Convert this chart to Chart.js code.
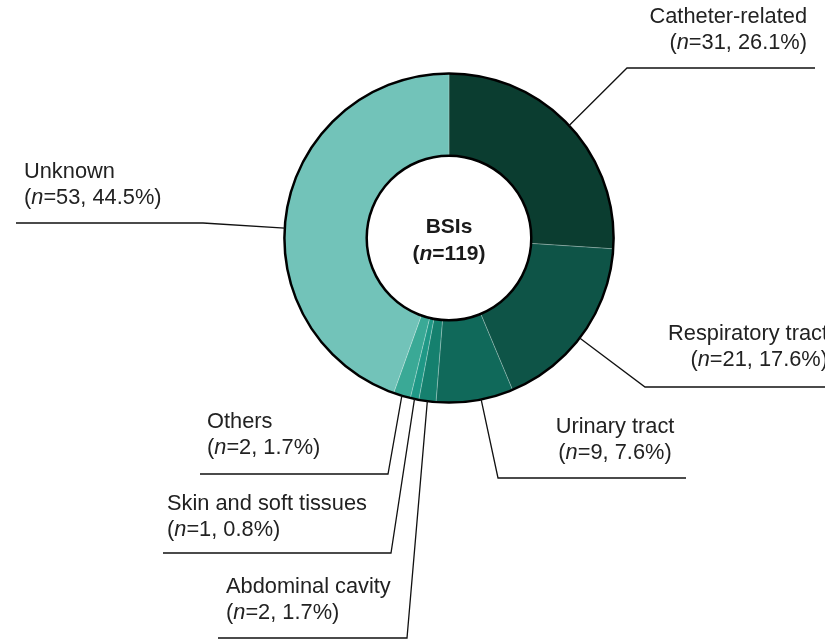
<!DOCTYPE html>
<html>
<head>
<meta charset="utf-8">
<title>BSIs by source</title>
<script src="https://cdn.jsdelivr.net/npm/chart.js@4.4.1/dist/chart.umd.min.js"></script>
<style>
    html, body { margin: 0; padding: 0; background: #ffffff; }
    #wrap { width: 825px; height: 641px; }
</style>
</head>
<body>
<div id="wrap"><canvas id="bsi-chart" width="825" height="641"></canvas></div>
<script>
"use strict";

// Source of bloodstream infections, clockwise from 12 o'clock
const categories = ["Catheter-related", "Respiratory tract", "Urinary tract",
    "Abdominal cavity", "Skin and soft tissues", "Others", "Unknown"];
const counts = [31, 21, 9, 2, 1, 2, 53];
const percents = [26.1, 17.6, 7.6, 1.7, 0.8, 1.7, 44.5];
const centerTitle = "BSIs";
const totalCount = 119;

const sliceColors = ["#0b3d30", "#0e5447", "#10695a", "#15806e", "#1f9886", "#3aa996", "#72c3b9"];

// where each callout sits: point on the arc (fraction of the slice), elbow, end of the rule, text
const callouts = [
    { at: 0.50, elbow: [627, 68],  end: 815, tx: 807, ty: 23,  align: "right" },
    { at: 0.53, elbow: [645, 387], end: 830, tx: 828, ty: 340, align: "right" },
    { at: 0.42, elbow: [498, 478], end: 686, tx: 615, ty: 433, align: "center" },
    { at: 0.50, elbow: [407, 638], end: 218, tx: 226, ty: 593, align: "left" },
    { at: 0.50, elbow: [391, 553], end: 163, tx: 167, ty: 510, align: "left" },
    { at: 0.50, elbow: [388, 474], end: 200, tx: 207, ty: 428, align: "left" },
    { at: 0.46, elbow: [203, 223], end: 16,  tx: 24,  ty: 178, align: "left" }
];

const FONT = '"Liberation Sans", Arial, sans-serif';
const LABEL_SIZE = 21.8;
const TEXT_COLOR = "#222222";

// draw a line made of plain / italic runs
function drawRich(ctx, parts, x, y, align, size, bold) {
    const weight = bold ? "bold " : "";
    let total = 0;
    parts.forEach(p => {
        ctx.font = (p.i ? "italic " : "") + weight + size + "px " + FONT;
        p.w = ctx.measureText(p.t).width;
        total += p.w;
    });
    let cx = x;
    if (align === "right") cx = x - total;
    else if (align === "center") cx = x - total / 2;
    ctx.textAlign = "left";
    parts.forEach(p => {
        ctx.font = (p.i ? "italic " : "") + weight + size + "px " + FONT;
        ctx.fillText(p.t, cx, y);
        cx += p.w;
    });
}

const calloutPlugin = {
    id: "callouts",
    afterDatasetsDraw(chart) {
        const ctx = chart.ctx;
        const meta = chart.getDatasetMeta(0);
        const arc0 = meta.data[0];
        const cx = arc0.x, cy = arc0.y;
        const outerR = arc0.outerRadius, innerR = arc0.innerRadius;

        ctx.save();

        // black rims round the ring
        ctx.strokeStyle = "#000000";
        ctx.lineWidth = 2.5;
        ctx.beginPath();
        ctx.arc(cx, cy, outerR, 0, Math.PI * 2);
        ctx.stroke();
        ctx.beginPath();
        ctx.arc(cx, cy, innerR, 0, Math.PI * 2);
        ctx.stroke();

        // leader lines
        ctx.strokeStyle = "#111111";
        ctx.lineWidth = 1.3;
        meta.data.forEach((arc, i) => {
            const c = callouts[i];
            const a = arc.startAngle + (arc.endAngle - arc.startAngle) * c.at;
            const px = cx + Math.cos(a) * outerR;
            const py = cy + Math.sin(a) * outerR;
            ctx.beginPath();
            ctx.moveTo(px, py);
            ctx.lineTo(c.elbow[0], c.elbow[1]);
            ctx.lineTo(c.end, c.elbow[1]);
            ctx.stroke();
        });

        // labels
        ctx.fillStyle = TEXT_COLOR;
        ctx.textBaseline = "alphabetic";
        categories.forEach((name, i) => {
            const c = callouts[i];
            drawRich(ctx, [{ t: name }], c.tx, c.ty, c.align, LABEL_SIZE, false);
            drawRich(ctx, [
                { t: "(" }, { t: "n", i: true },
                { t: "=" + counts[i] + ", " + percents[i].toFixed(1) + "%)" }
            ], c.tx, c.ty + 26, c.align, LABEL_SIZE, false);
        });

        // centre caption
        ctx.fillStyle = "#1a1a1a";
        drawRich(ctx, [{ t: centerTitle }], cx, cy - 5, "center", 21, true);
        drawRich(ctx, [{ t: "(" }, { t: "n", i: true }, { t: "=" + totalCount + ")" }],
            cx, cy + 22, "center", 21, true);

        ctx.restore();
    }
};

new Chart(document.getElementById("bsi-chart"), {
    type: "doughnut",
    data: {
        labels: categories,
        datasets: [{
            data: counts,
            backgroundColor: sliceColors,
            borderColor: "rgba(255,255,255,0.3)",
            borderWidth: 0.8,
            hoverOffset: 0
        }]
    },
    options: {
        responsive: false,
        animation: false,
        events: [],
        cutout: "50%",
        layout: { padding: { left: 284, top: 73, right: 211, bottom: 238 } },
        plugins: {
            legend: { display: false },
            tooltip: { enabled: false }
        }
    },
    plugins: [calloutPlugin]
});
</script>
</body>
</html>
